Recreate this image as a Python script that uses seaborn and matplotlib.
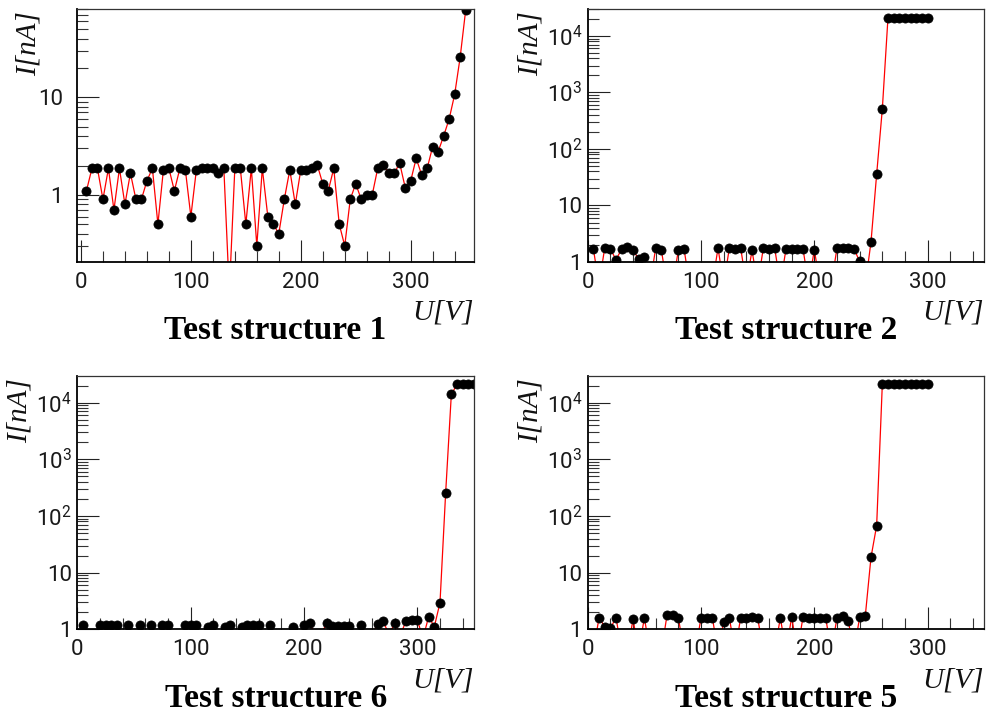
import numpy as np
import matplotlib
matplotlib.use("Agg")
import matplotlib.pyplot as plt
import seaborn as sns
from matplotlib.ticker import LogLocator, NullFormatter, FuncFormatter, MultipleLocator

# ---------------- data ----------------
u1 = [5, 10, 15, 20, 25, 30, 35, 40, 45, 50, 55, 60, 65, 70, 75, 80, 85, 90, 95, 100,
      105, 110, 115, 120, 125, 130, 135, 140, 145, 150, 155, 160, 165, 170, 175, 180, 185, 190, 195, 200,
      205, 210, 215, 220, 225, 230, 235, 240, 245, 250, 255, 260, 265, 270, 275, 280, 285, 290, 295, 300,
      305, 310, 315, 320, 325, 330, 335, 340, 345, 350]
i1 = [1.10, 1.87, 1.87, 0.90, 1.87, 0.70, 1.87, 0.80, 1.67, 0.90,
      0.90, 1.39, 1.87, 0.50, 1.80, 1.87, 1.10, 1.87, 1.80, 0.60,
      1.80, 1.87, 1.87, 1.87, 1.67, 1.87, 0.10, 1.87, 1.87, 0.50,
      1.87, 0.30, 1.87, 0.60, 0.50, 0.40, 0.90, 1.80, 0.80, 1.80,
      1.80, 1.87, 2.03, 1.30, 1.10, 1.87, 0.50, 0.30, 0.90, 1.30,
      0.90, 1.00, 1.00, 1.87, 2.03, 1.67, 1.67, 2.11, 1.19, 1.39,
      2.37, 1.60, 1.87, 3.13, 2.78, 4.02, 6.00, 10.7, 25.7, 78.0]

u2 = [5, 10, 15, 20, 25, 30, 35, 40, 45, 50, 55, 60, 65, 70, 75, 80, 85, 90, 95, 100,
      105, 110, 115, 120, 125, 130, 135, 140, 145, 150, 155, 160, 165, 170, 175, 180, 185, 190, 195, 200,
      205, 210, 215, 220, 225, 230, 235, 240, 245, 250, 255, 260, 265, 270, 275, 280, 285, 290, 295, 300]
i2 = [1.70, 0.40, 1.77, 1.70, 1.10, 1.70, 1.84, 1.61, 1.13, 1.21,
      0.40, 1.77, 1.61, 0.40, 0.40, 1.61, 1.70, 0.40, 0.40, 0.40,
      0.40, 0.40, 1.77, 0.40, 1.77, 1.70, 1.77, 0.40, 1.61, 0.40,
      1.77, 1.70, 1.77, 0.40, 1.70, 1.70, 1.70, 1.70, 0.40, 1.65,
      0.40, 0.40, 0.40, 1.77, 1.77, 1.77, 1.70, 1.03, 0.40, 2.25,
      35.7, 508.0, 21000, 21000, 21000, 21000, 21000, 21000, 21000, 21000]

u6 = [5, 10, 15, 20, 25, 30, 35, 40, 45, 50, 55, 60, 65, 70, 75, 80, 85, 90, 95, 100,
      105, 110, 115, 120, 125, 130, 135, 140, 145, 150, 155, 160, 165, 170, 175, 180, 185, 190, 195, 200,
      205, 210, 215, 220, 225, 230, 235, 240, 245, 250, 255, 260, 265, 270, 275, 280, 285, 290, 295, 300,
      305, 310, 315, 320, 325, 330, 335, 340, 345, 350]
i6 = [1.19, 0.80, 0.80, 1.19, 1.19, 1.19, 1.19, 0.80, 1.19, 0.80,
      1.19, 0.80, 1.19, 0.80, 1.19, 1.19, 0.80, 0.80, 1.19, 1.19,
      1.19, 0.80, 1.11, 1.19, 0.80, 1.11, 1.19, 0.80, 1.11, 1.19,
      1.19, 1.19, 0.80, 1.19, 0.80, 0.80, 0.80, 1.11, 0.80, 1.19,
      1.28, 0.80, 0.80, 1.28, 1.16, 1.16, 1.16, 1.16, 0.80, 1.19,
      0.80, 0.80, 1.24, 1.38, 0.80, 1.28, 0.80, 1.38, 1.46, 1.46,
      0.70, 1.67, 1.11, 2.95, 258.0, 14000, 21000, 21000, 21000, 21000]

u5 = [5, 10, 15, 20, 25, 30, 35, 40, 45, 50, 55, 60, 65, 70, 75, 80, 85, 90, 95, 100,
      105, 110, 115, 120, 125, 130, 135, 140, 145, 150, 155, 160, 165, 170, 175, 180, 185, 190, 195, 200,
      205, 210, 215, 220, 225, 230, 235, 240, 245, 250, 255, 260, 265, 270, 275, 280, 285, 290, 295, 300]
i5 = [0.40, 1.61, 1.11, 1.04, 1.61, 0.40, 0.40, 1.50, 0.40, 1.61,
      0.40, 0.40, 0.40, 1.79, 1.79, 1.61, 0.40, 0.40, 0.40, 1.61,
      1.61, 1.61, 0.40, 1.37, 1.61, 0.40, 1.61, 1.61, 1.65, 1.61,
      0.40, 0.40, 0.40, 1.61, 0.40, 1.65, 0.40, 1.65, 1.61, 1.61,
      1.61, 1.61, 0.40, 1.61, 1.74, 1.40, 0.40, 1.65, 1.74, 18.6,
      67.5, 21000, 21000, 21000, 21000, 21000, 21000, 21000, 21000, 21000]

titles = ["Test structure 1", "Test structure 2", "Test structure 6", "Test structure 5"]
xlabel = "U[V]"
ylabel = "I[nA]"
xticks = [0, 100, 200, 300]

# ---------------- style ----------------
sns.set_theme(style="ticks")
plt.rcParams["font.family"] = ["Roboto", "DejaVu Sans"]
plt.rcParams["font.weight"] = "normal"
plt.rcParams["mathtext.fontset"] = "custom"
plt.rcParams["mathtext.rm"] = "Roboto"
plt.rcParams["mathtext.it"] = "Roboto:italic"
plt.rcParams["mathtext.bf"] = "Roboto:bold"

fig = plt.figure(figsize=(9.92, 7.19), dpi=100)
W, H = 992.0, 719.0
boxes = [
    (77.0, 9.0, 474.0, 262.0),
    (587.7, 9.0, 984.3, 262.0),
    (77.3, 376.0, 474.0, 629.3),
    (587.7, 376.0, 984.3, 629.3),
]
series = [(u1, i1), (u2, i2), (u6, i6), (u5, i5)]
xlims = [(-3.6, 357.6), (0, 350), (0, 350), (0, 350)]
ylims = [(0.205, 80.5), (1, 30000), (1, 29500), (1, 29500)]


def log_fmt(v, pos):
    if v <= 0:
        return ""
    e = int(round(np.log10(v)))
    if abs(v - 10.0 ** e) > 1e-6 * v:
        return ""
    if e == 0:
        return "1"
    if e == 1:
        return "10"
    return r"$10^{%d}$" % e


for k, ((l, t, r, b), (u, cur)) in enumerate(zip(boxes, series)):
    ax = fig.add_axes([l / W, 1 - b / H, (r - l) / W, (b - t) / H])
    sns.lineplot(x=u, y=cur, ax=ax, color="red", lw=0.9, marker="o",
                 markersize=6.6, markerfacecolor="black", markeredgecolor="black",
                 markeredgewidth=0.5, sort=False, estimator=None)
    ax.set_yscale("log")
    ax.set_xlim(*xlims[k])
    ax.set_ylim(*ylims[k])

    ax.xaxis.set_major_locator(matplotlib.ticker.FixedLocator(xticks))
    ax.xaxis.set_minor_locator(MultipleLocator(20))
    ax.yaxis.set_major_locator(LogLocator(base=10, numticks=12))
    ax.yaxis.set_minor_locator(LogLocator(base=10, subs=np.arange(2, 10), numticks=40))
    ax.yaxis.set_major_formatter(FuncFormatter(log_fmt))
    ax.yaxis.set_minor_formatter(NullFormatter())

    ax.tick_params(axis="both", which="major", direction="in", length=16, width=0.8,
                   color="#222222", labelsize=16, labelcolor="#1a1a1a",
                   top=False, right=False)
    ax.tick_params(axis="both", which="minor", direction="in", length=8, width=0.8,
                   color="#333333", top=False, right=False)
    ax.tick_params(axis="x", which="major", pad=7)
    ax.tick_params(axis="y", which="major", pad=10 if k == 0 else 4)

    for s in ["left", "bottom"]:
        ax.spines[s].set_linewidth(1.3)
        ax.spines[s].set_color("black")
    for s in ["top", "right"]:
        ax.spines[s].set_linewidth(0.9)
        ax.spines[s].set_color("#333333")

    ax.set_xlabel(xlabel, fontsize=21, family="Liberation Serif", style="italic",
                  fontweight="normal", color="#111111")
    ax.xaxis.set_label_coords(1.0, -0.15)
    ax.xaxis.label.set_ha("right")
    ax.xaxis.label.set_va("top")
    ax.set_ylabel(ylabel, fontsize=21, family="Liberation Serif", style="italic",
                  fontweight="normal", color="#111111")
    ax.yaxis.set_label_coords(-0.09 if k == 0 else -0.112, 0.99)
    ax.yaxis.label.set_ha("right")
    ax.yaxis.label.set_va("bottom")

    ax.text(0.5, -0.272, titles[k], transform=ax.transAxes, ha="center", va="center",
            fontsize=24, fontweight="bold", family="Liberation Serif", color="black")

fig.savefig("out.png", dpi=100)
